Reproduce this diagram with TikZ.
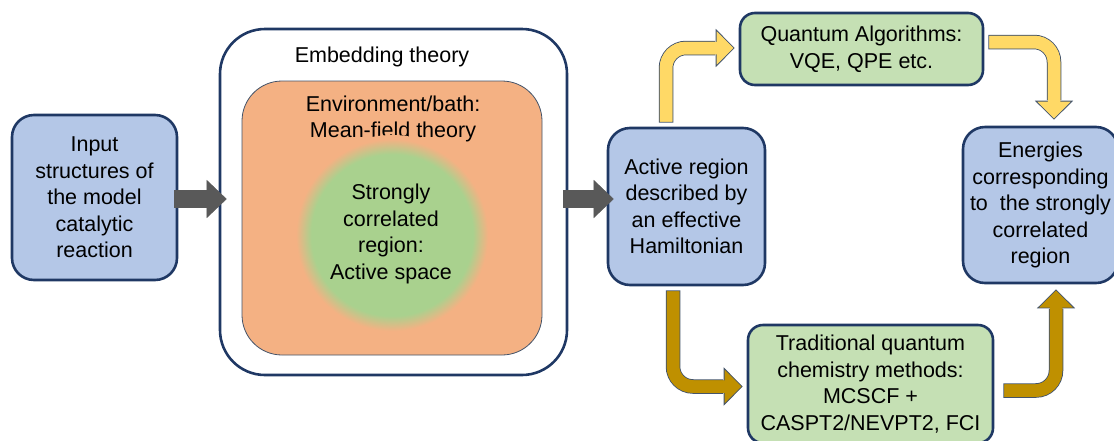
\documentclass[tikz,border=0pt]{standalone}
\usepackage{fontspec}
\setmainfont{Liberation Sans}
\usetikzlibrary{arrows.meta,calc}

\definecolor{navy}{RGB}{31,56,100}
\definecolor{stageblue}{RGB}{180,199,231}
\definecolor{methodgreen}{RGB}{197,224,180}
\definecolor{envorange}{RGB}{244,177,131}
\definecolor{coregreen}{RGB}{169,209,142}
\definecolor{arrowgray}{RGB}{89,89,89}
\definecolor{arrowyellow}{RGB}{255,217,102}
\definecolor{arrowgold}{RGB}{191,144,0}
\definecolor{arrowline}{RGB}{68,84,106}

% soft edge of the active space
\pgfdeclareradialshading{corefade}{\pgfpoint{0bp}{0bp}}{color(0bp)=(coregreen); color(20.2bp)=(coregreen); color(24bp)=(envorange); color(50bp)=(envorange)}

\newcommand{\bodyfont}{\fontsize{21.5}{26.5}\selectfont}

\tikzset{
  every node/.style={font=\bodyfont, align=center},
  stagebox/.style={draw=navy, line width=2.6pt, rounded corners=22pt, inner sep=0pt},
  bluebox/.style={stagebox, fill=stageblue},
  greenbox/.style={stagebox, fill=methodgreen, rounded corners=15pt},
  grayfat/.style={draw=arrowgray, line width=18pt, -{Triangle[width=38pt, length=20pt, line width=0.4pt, fill=arrowgray]}},
  bentfat/.style={draw=#1, line width=12.5pt, rounded corners=20pt, shorten <=1pt,
    -{Triangle[width=38pt, length=19pt, line width=0.8pt, fill=#1, color=arrowline]},
    preaction={draw=arrowline, line width=14.5pt, arrows=-, shorten <=0pt, shorten >=19.5pt},
    postaction={draw=#1, line width=12.5pt, arrows=-, shorten >=17pt}},
}

\begin{document}
\begin{tikzpicture}[x=1pt, y=-1pt]
	\useasboundingbox (0,0) rectangle (1114,440);
	\clip (0,0) rectangle (1114,440); % boxes run off the page at the right and bottom

	% embedding frame
	\node[draw=navy, line width=2.6pt, rounded corners=45pt, fill=white, minimum width=347pt, minimum height=346pt] (emb) at (393.5,202) {};
	\node (embtitle) at (382,57) {Embedding theory};
	\node[draw=arrowline, line width=0.8pt, fill=envorange, rounded corners=40pt, minimum width=300pt, minimum height=274pt] (env) at (392,218) {};
	\node (envtitle) at (393,119) {Environment/bath:\\Mean-field theory};
	\shade[shading=corefade] (392,235) circle[radius=100pt];
	\node (core) at (391,234) {Strongly\\correlated\\region:\\Active space};

	% stages
	\node[bluebox, minimum width=165pt, minimum height=165pt] (inp) at (94.5,197.5) {Input\\structures of\\the model\\catalytic\\reaction};
	\node[bluebox, minimum width=157pt, minimum height=157pt] (act) at (686.5,206.5) {Active region\\described by\\an effective\\Hamiltonian};
	\node[greenbox, minimum width=243pt, minimum height=72pt] (qa) at (861.5,49) {Quantum Algorithms:\\VQE, QPE etc.};
	\node[greenbox, minimum width=245pt, minimum height=118pt] (trad) at (870.5,384) {Traditional quantum\\chemistry methods:\\MCSCF +\\CASPT2/NEVPT2, FCI};
	\node[bluebox, minimum width=155pt, minimum height=156pt] (en) at (1040.5,205) {Energies\\corresponding\\to\ \ the strongly\\correlated\\region};

	% block arrows
	\draw[grayfat] ($(inp.east)+(-4,1.5)$) -- ($(inp.east -| emb.west)+(8,1.5)$);
	\draw[grayfat] ($(emb.east)+(-5,-3)$) -- ($(act.west |- emb.east)+(7,-3)$);
	\draw[bentfat=arrowyellow] ($(act.north)+(-20.5,-4)$) |- ($(qa.west)+(-4,-1)$);
	\draw[bentfat=arrowyellow] ($(qa.east)+(4,-7)$) -| ($(en.north)+(13.5,-6)$);
	\draw[bentfat=arrowgold] ($(act.south)+(-13.5,4)$) |- ($(trad.west)+(-4,2.5)$);
	\draw[bentfat=arrowgold] ($(trad.east)+(9,6.5)$) -| ($(en.south)+(15.5,5)$);
\end{tikzpicture}
\end{document}
